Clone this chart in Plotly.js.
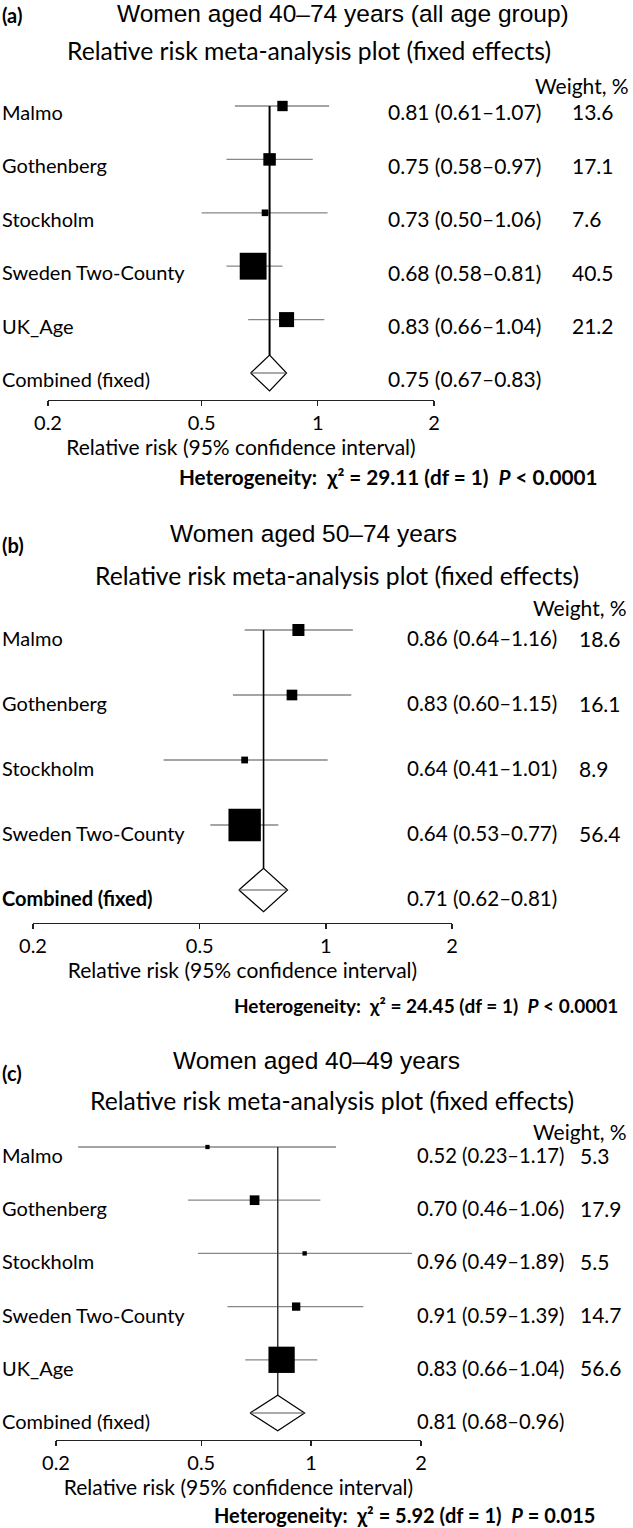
<!DOCTYPE html>
<html>
<head>
<meta charset="utf-8">
<script src="https://cdn.plot.ly/plotly-3.0.1.min.js"></script>
<style>html,body{margin:0;padding:0;background:#fff}#chart{width:633px;height:1528px}</style>
</head>
<body>
<div id="chart"></div>
<script>
// ---------------- DATA ----------------
const ticks = [0.2, 0.5, 1, 2];
const tickLabels = ["0.2", "0.5", "1", "2"];
const nullRR = 1;
const axisTitle = "Relative risk (95% confidence interval)";
const subtitle = "Relative risk meta-analysis plot (fixed effects)";
const weightHeader = "Weight, %";
const combinedLabel = "Combined (fixed)";

// Panel (a): women aged 40–74
const titleA = "Women aged 40–74 years (all age group)";
const studiesA = ["Malmo", "Gothenberg", "Stockholm", "Sweden Two-County", "UK_Age"];
const rrA = [0.81, 0.75, 0.73, 0.68, 0.83];
const loA = [0.61, 0.58, 0.50, 0.58, 0.66];
const hiA = [1.07, 0.97, 1.06, 0.81, 1.04];
const weightA = [13.6, 17.1, 7.6, 40.5, 21.2];
const combinedA = [0.75, 0.67, 0.83];
const chiA = "29.11", dfA = "1", pA = "&lt; 0.0001";

// Panel (b): women aged 50–74
const titleB = "Women aged 50–74 years";
const studiesB = ["Malmo", "Gothenberg", "Stockholm", "Sweden Two-County"];
const rrB = [0.86, 0.83, 0.64, 0.64];
const loB = [0.64, 0.60, 0.41, 0.53];
const hiB = [1.16, 1.15, 1.01, 0.77];
const weightB = [18.6, 16.1, 8.9, 56.4];
const combinedB = [0.71, 0.62, 0.81];
const chiB = "24.45", dfB = "1", pB = "&lt; 0.0001";

// Panel (c): women aged 40–49
const titleC = "Women aged 40–49 years";
const studiesC = ["Malmo", "Gothenberg", "Stockholm", "Sweden Two-County", "UK_Age"];
const rrC = [0.52, 0.70, 0.96, 0.91, 0.83];
const loC = [0.23, 0.46, 0.49, 0.59, 0.66];
const hiC = [1.17, 1.06, 1.89, 1.39, 1.04];
const weightC = [5.3, 17.9, 5.5, 14.7, 56.6];
const combinedC = [0.81, 0.68, 0.96];
const chiC = "5.92", dfC = "1", pC = "= 0.015";

// ---------------- LAYOUT GEOMETRY (px) ----------------
const W = 633, H = 1528;
const FONT = "Lato, 'Open Sans', sans-serif";
const FONT_T1 = "'Liberation Sans', Arial, sans-serif";
const DH = 0.335; // diamond half-height in row units

const geo = [
  {tag:"(a)", xL:48, xR:434, row0:106, step:53.4, axisPx:400, topPx:86, ys:-6,
   lblY:15, t1x:343, t1y:14, t2x:309, t2y:51, wtR:631, wtY:85, rrX:386, wX:570, rrFs:21,
   hetX:388, hetY:477, hetFs:20.7, k:0.614,
   nullColor:"#6a6a6a", nullW:1.3, combColor:"#000", combW:2, combBold:false},
  {tag:"(b)", xL:33, xR:452, row0:630, step:65, axisPx:923, topPx:609, ys:-8,
   lblY:545, t1x:313, t1y:533, t2x:337, t2y:575, wtR:629, wtY:607, rrX:405, wX:577, rrFs:20.6,
   hetX:426, hetY:1005, hetFs:19, k:0.539,
   nullColor:"#000", nullW:2, combColor:"#000", combW:1.6, combBold:true},
  {tag:"(c)", xL:56, xR:421, row0:1147, step:53.2, axisPx:1440, topPx:1130, ys:-8,
   lblY:1073, t1x:316, t1y:1060, t2x:332, t2y:1100, wtR:629, wtY:1131, rrX:415, wX:578, rrFs:20.2,
   hetX:404, hetY:1515, hetFs:20, k:0.429,
   nullColor:"#000", nullW:2, combColor:"#333", combW:1.5, combBold:false}
];

const panels = [
  {title:titleA, studies:studiesA, rr:rrA, lo:loA, hi:hiA, w:weightA, comb:combinedA, chi:chiA, df:dfA, p:pA},
  {title:titleB, studies:studiesB, rr:rrB, lo:loB, hi:hiB, w:weightB, comb:combinedB, chi:chiB, df:dfB, p:pB},
  {title:titleC, studies:studiesC, rr:rrC, lo:loC, hi:hiC, w:weightC, comb:combinedC, chi:chiC, df:dfC, p:pC}
];

const px2y = p => 1 - p / H;
const px2x = p => p / W;
const fmtCI = (e, l, h) => e.toFixed(2) + " (" + l.toFixed(2) + "–" + h.toFixed(2) + ")";

const traces = [], annotations = [], shapes = [];
const layout = {
  width: W, height: H, margin:{l:0, r:0, t:0, b:0},
  paper_bgcolor:"#fff", plot_bgcolor:"rgba(0,0,0,0)", showlegend:false,
  font:{family:FONT, color:"#000"}
};

panels.forEach((d, i) => {
  const g = geo[i];
  const n = i + 1;
  const xa = n === 1 ? "x" : "x" + n;
  const ya = n === 1 ? "y" : "y" + n;
  const xk = n === 1 ? "xaxis" : "xaxis" + n;
  const yk = n === 1 ? "yaxis" : "yaxis" + n;
  const cr = d.rr.length; // combined row index
  const rows = d.rr.map((_, j) => j);

  // CI lines
  const cx = [], cy = [];
  d.rr.forEach((_, j) => { cx.push(d.lo[j], d.hi[j], null); cy.push(j, j, null); });
  traces.push({type:"scatter", mode:"lines", x:cx, y:cy, xaxis:xa, yaxis:ya,
    line:{color:"#878787", width:1.3}, hoverinfo:"skip"});

  // pooled-estimate vertical line
  traces.push({type:"scatter", mode:"lines", x:[d.comb[0], d.comb[0]], y:[0, cr - DH],
    xaxis:xa, yaxis:ya, line:{color:g.combColor, width:g.combW}, hoverinfo:"skip"});

  // study squares
  traces.push({type:"scatter", mode:"markers", x:d.rr, y:rows, xaxis:xa, yaxis:ya,
    marker:{symbol:"square", color:"#000", opacity:1, size:d.w.map(w => g.k * w + 2), line:{width:0}},
    hoverinfo:"x"});

  // diamond
  traces.push({type:"scatter", mode:"lines", fill:"toself", fillcolor:"#fff",
    x:[d.comb[1], d.comb[0], d.comb[2], d.comb[0], d.comb[1]],
    y:[cr, cr - DH, cr, cr + DH, cr], xaxis:xa, yaxis:ya,
    line:{color:"#000", width:1.2}, hoverinfo:"skip"});
  traces.push({type:"scatter", mode:"lines", x:[d.comb[1], d.comb[2]], y:[cr, cr],
    xaxis:xa, yaxis:ya, line:{color:"#555", width:1.2}, hoverinfo:"skip"});

  // null line
  shapes.push({type:"line", xref:xa, yref:ya + " domain", x0:Math.log10(nullRR), x1:Math.log10(nullRR),
    y0:0, y1:1, line:{color:g.nullColor, width:g.nullW}, layer:"below"});

  layout[xk] = {
    domain:[px2x(g.xL), px2x(g.xR)], anchor:ya, type:"log",
    range:[Math.log10(ticks[0]), Math.log10(ticks[ticks.length - 1])],
    tickmode:"array", tickvals:ticks, ticktext:tickLabels,
    ticks:"outside", ticklen:5, tickwidth:1.3, tickcolor:"#222",
    showline:true, linecolor:"#222", linewidth:1.3,
    showgrid:false, zeroline:false, fixedrange:true,
    tickfont:{family:FONT, size:20, color:"#000"},
    title:{text:axisTitle, font:{family:FONT, size:21, color:"#000"}, standoff:4}
  };
  layout[yk] = {
    domain:[px2y(g.axisPx), px2y(g.topPx)], anchor:xa,
    range:[(g.axisPx - g.row0) / g.step, (g.topPx - g.row0) / g.step],
    visible:false, fixedrange:true
  };

  // row texts
  const labels = d.studies.concat([combinedLabel]);
  const ests = d.rr.concat([d.comb[0]]);
  const los = d.lo.concat([d.comb[1]]);
  const his = d.hi.concat([d.comb[2]]);
  labels.forEach((lab, j) => {
    const bold = (j === cr && g.combBold);
    annotations.push({xref:"paper", yref:ya, x:0, y:j, xanchor:"left", yanchor:"middle", yshift:g.ys,
      text: bold ? "<b>" + lab + "</b>" : lab, showarrow:false,
      font:{family:FONT, size:20, color:"#000"}});
    annotations.push({xref:"paper", yref:ya, x:px2x(g.rrX), y:j, xanchor:"left", yanchor:"middle", yshift:g.ys,
      text:fmtCI(ests[j], los[j], his[j]), showarrow:false,
      font:{family:FONT, size:g.rrFs, color:"#000"}});
    if (j < cr) {
      annotations.push({xref:"paper", yref:ya, x:px2x(g.wX), y:j, xanchor:"left", yanchor:"middle", yshift:g.ys,
        text:d.w[j].toFixed(1), showarrow:false,
        font:{family:FONT, size:21, color:"#000"}});
    }
  });

  // headings
  annotations.push({xref:"paper", yref:"paper", x:0, y:px2y(g.lblY), xanchor:"left", yanchor:"middle",
    text:"<b>" + g.tag + "</b>", showarrow:false, font:{family:FONT, size:20, color:"#000"}});
  annotations.push({xref:"paper", yref:"paper", x:px2x(g.t1x), y:px2y(g.t1y), xanchor:"center", yanchor:"middle",
    text:d.title, showarrow:false, font:{family:FONT_T1, size:24.5, color:"#000"}});
  annotations.push({xref:"paper", yref:"paper", x:px2x(g.t2x), y:px2y(g.t2y), xanchor:"center", yanchor:"middle",
    text:subtitle, showarrow:false, font:{family:FONT, size:24.7, color:"#000"}});
  annotations.push({xref:"paper", yref:"paper", x:px2x(g.wtR), y:px2y(g.wtY), xanchor:"right", yanchor:"middle",
    text:weightHeader, showarrow:false, font:{family:FONT, size:21, color:"#000"}});
  annotations.push({xref:"paper", yref:"paper", x:px2x(g.hetX), y:px2y(g.hetY), xanchor:"center", yanchor:"middle",
    text:"<b>Heterogeneity:&#160; χ² = " + d.chi + " (df = " + d.df + ")&#160; <i>P</i> " + d.p + "</b>",
    showarrow:false, font:{family:FONT, size:g.hetFs, color:"#000"}});
});

layout.shapes = shapes;
layout.annotations = annotations;

Plotly.newPlot("chart", traces, layout, {staticPlot:true, displayModeBar:false});
</script>
</body>
</html>
